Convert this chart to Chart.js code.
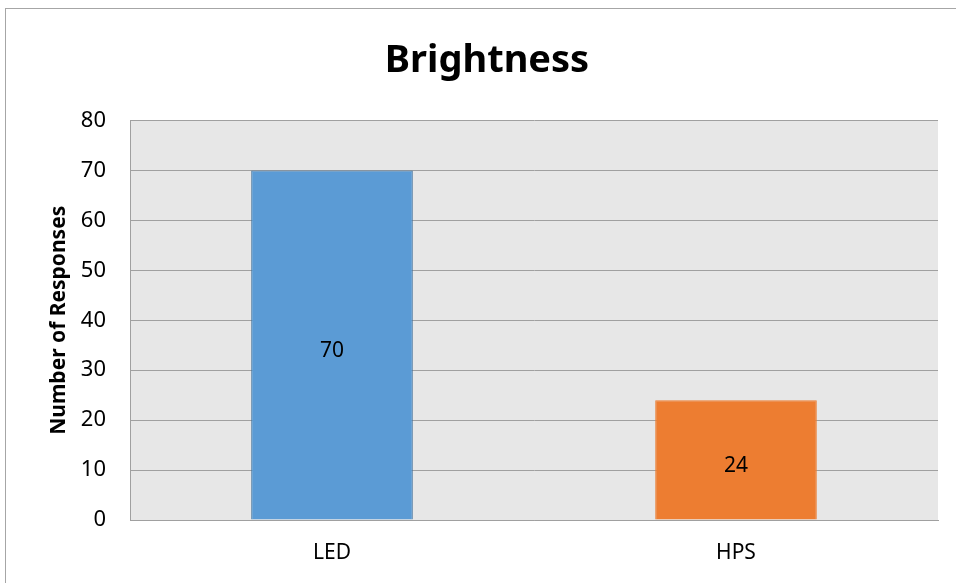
<!DOCTYPE html>
<html>
<head>
<meta charset="utf-8">
<script src="https://cdn.jsdelivr.net/npm/chart.js@4"></script>
<style>
  body { margin: 0; background: #fff; }
  #wrap { position: relative; width: 956px; height: 583px; }
  #frame { position: absolute; left: 5px; top: 8px; width: 960px; height: 600px;
           border-left: 1px solid #a6a6a6; border-top: 1px solid #a6a6a6; }
  canvas { position: absolute; left: 0; top: 0; }
</style>
</head>
<body>
<div id="wrap">
  <div id="frame"></div>
  <canvas id="chart" width="956" height="583"></canvas>
</div>
<script>
const categories = ["LED", "HPS"];
const responses = [70, 24];
const barColors = ["#5b9bd5", "#ed7d31"];
const barBorders = ["#41719c", "#ed7d31"];
const yTicks = [0, 10, 20, 30, 40, 50, 60, 70, 80];

const fontFamily = "'Noto Sans', 'Open Sans', sans-serif";

const plotBackground = {
    id: "plotBackground",
    beforeDraw(chart) {
        const a = chart.chartArea;
        const ctx = chart.ctx;
        ctx.save();
        ctx.fillStyle = "#e7e7e7";
        ctx.fillRect(a.left, a.top, a.right - a.left, a.bottom - a.top);
        ctx.restore();
    }
};

const valueLabels = {
    id: "valueLabels",
    afterDatasetsDraw(chart) {
        const ctx = chart.ctx;
        const meta = chart.getDatasetMeta(0);
        ctx.save();
        ctx.font = "21px " + fontFamily;
        ctx.fillStyle = "#000";
        ctx.textAlign = "center";
        ctx.textBaseline = "middle";
        meta.data.forEach((bar, i) => {
            const y = (bar.y + bar.base) / 2 + 6;
            ctx.fillText(responses[i], bar.x, y);
        });
        ctx.restore();
    }
};

const chartelement = document.getElementById("chart");

new Chart(chartelement, {
    type: "bar",
    data: {
        labels: categories,
        datasets: [{
            data: responses,
            backgroundColor: barColors,
            borderColor: barBorders,
            borderWidth: 1,
            barPercentage: 0.4,
            categoryPercentage: 1.0
        }]
    },
    options: {
        responsive: false,
        animation: {duration: 0},
        layout: {padding: {left: 36, right: 18, top: 0, bottom: 0}},
        plugins: {
            legend: {display: false},
            tooltip: {enabled: false},
            title: {
                display: true,
                text: "Brightness",
                color: "#000",
                font: {family: fontFamily, size: 38, weight: "bold"},
                padding: {top: 38, bottom: 37}
            }
        },
        scales: {
            x: {
                grid: {display: false, drawTicks: false},
                border: {display: true, color: "#a0a0a0", width: 1},
                ticks: {color: "#000", padding: 20, font: {family: fontFamily, size: 21}},
                afterFit: s => { s.height = 63; }
            },
            y: {
                min: 0,
                max: 80,
                afterBuildTicks: s => { s.ticks = yTicks.map(v => ({value: v})); },
                grid: {color: "#a0a0a0", drawTicks: false},
                border: {display: true, color: "#a0a0a0", width: 1},
                ticks: {color: "#000", padding: 24, font: {family: fontFamily, size: 22}},
                title: {
                    display: true,
                    text: "Number of Responses",
                    color: "#000",
                    font: {family: fontFamily, size: 21, weight: "bold"},
                    padding: {top: 10, bottom: 0}
                },
                afterFit: s => { s.width = 94; }
            }
        }
    },
    plugins: [plotBackground, valueLabels]
});
</script>
</body>
</html>
